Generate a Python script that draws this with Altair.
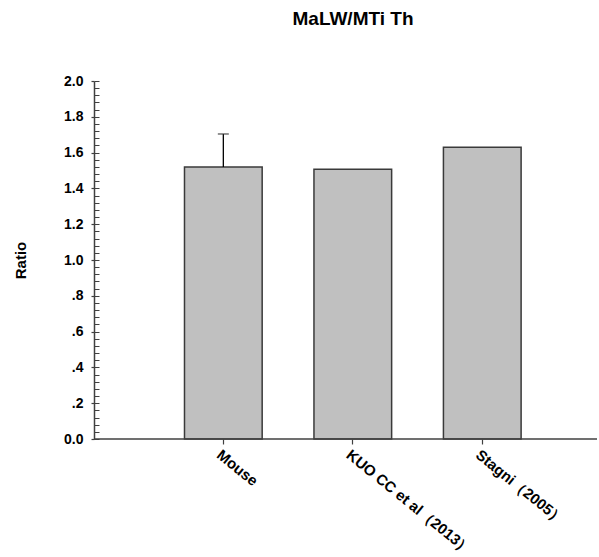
import altair as alt
import pandas as pd

# ---- data ----
labels = ["Mouse", "KUO CC et al（2013）", "Stagni（2005）"]
values = [1.52, 1.507, 1.63]
err_upper = [1.704, None, None]
baseline_value = [0.0]

major_ticks = [0.0, 0.2, 0.4, 0.6, 0.8, 1.0, 1.2, 1.4, 1.6, 1.8, 2.0]
minor_ticks = [round(i * 0.04, 2) for i in range(51)]

FONT = "Liberation Sans"
AX = "#404040"

df = pd.DataFrame({"label": labels, "value": values, "upper": err_upper})
base_df = pd.DataFrame({"v": baseline_value})

xscale = alt.Scale(range=[64.6, 453], paddingInner=0.4, paddingOuter=0.2)
yscale = alt.Scale(domain=[0, 2], nice=False, zero=True)

x_enc = alt.X(
    "label:N",
    sort=labels,
    scale=xscale,
    axis=alt.Axis(
        title=None,
        domain=False,
        labelAngle=39,
        labelAlign="left",
        labelBaseline="top",
        labelPadding=3,
        labelOverlap=False,
        labelFont=FONT,
        labelFontSize=15,
        labelFontWeight="bold",
        labelColor="#000000",
        tickSize=5,
        tickColor=AX,
        tickWidth=1.2,
    ),
)

bars = alt.Chart(df).mark_bar(
    fill="#c0c0c0", stroke="#3a3a3a", strokeWidth=1.5
).encode(
    x=x_enc,
    y=alt.Y(
        "value:Q",
        scale=yscale,
        axis=alt.Axis(
            values=major_ticks,
            labelExpr="datum.value > 0 && datum.value < 1 ? replace(format(datum.value, '.1f'), '0.', '.') : format(datum.value, '.1f')",
            grid=False,
            tickSize=3,
            tickColor=AX,
            tickWidth=1.2,
            domainColor=AX,
            domainWidth=1.5,
            labelPadding=8,
            labelFont=FONT,
            labelFontSize=14,
            labelFontWeight="bold",
            labelColor="#000000",
            title="Ratio",
            titleFont=FONT,
            titleFontSize=15,
            titleFontWeight="bold",
            titleColor="#000000",
            titleAngle=-90,
            titleX=-74,
            titleY=179,
            titleAlign="center",
            titleBaseline="middle",
        ),
    ),
)

err = alt.Chart(df).transform_filter("isValid(datum.upper)").mark_rule(
    color="#000000", strokeWidth=1.3
).encode(
    x=alt.X("label:N", sort=labels, scale=xscale, axis=None),
    y=alt.Y(
        "value:Q",
        scale=yscale,
        axis=alt.Axis(
            orient="left",
            offset=-5,
            values=minor_ticks,
            tickSize=5,
            tickColor=AX,
            tickWidth=1,
            labels=False,
            domain=False,
            grid=False,
            title=None,
        ),
    ),
    y2="upper:Q",
)

cap = alt.Chart(df).transform_filter("isValid(datum.upper)").mark_tick(
    color="#333333", thickness=1.5, size=11
).encode(
    x=alt.X("label:N", sort=labels, scale=xscale, axis=None),
    y=alt.Y("upper:Q", scale=yscale, axis=None),
)

baseline = alt.Chart(base_df).mark_rule(color=AX, strokeWidth=1.5).encode(
    y=alt.Y("v:Q", scale=yscale, axis=None)
)

chart = (
    alt.layer(bars, err, cap, baseline)
    .resolve_axis(y="independent", x="independent")
    .properties(
        width=503,
        height=358,
        autosize=alt.AutoSizeParams(type="none"),
        padding={"left": 94, "top": 81, "right": 2, "bottom": 118},
        title=alt.TitleParams(
            "MaLW/MTi Th",
            font=FONT,
            fontSize=19,
            fontWeight="bold",
            color="#000000",
            anchor="middle",
            frame="group",
            dx=7.5,
            offset=30,
            baseline="alphabetic",
        ),
        background="white",
    )
    .configure_view(stroke=None)
)

chart.save("out.html", embed_options={"renderer": "svg", "actions": False})
